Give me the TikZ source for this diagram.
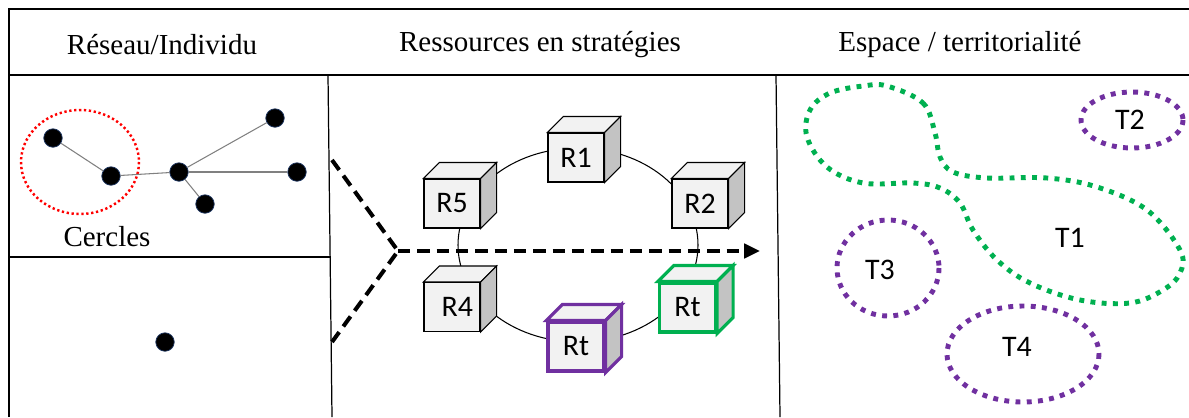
\documentclass[tikz,border=0pt]{standalone}
\usepackage{fontspec}
\setmainfont{Liberation Serif}
\newfontfamily\calibri{Carlito}
\usetikzlibrary{arrows.meta,shapes.geometric}
\definecolor{tgreen}{HTML}{00B050}
\definecolor{tpurple}{HTML}{7030A0}
\definecolor{cubefront}{HTML}{F2F2F2}
\definecolor{cubeside}{HTML}{C3C3C3}
\definecolor{dotblue}{HTML}{1F3864}
\newcommand\cubeext[3]{%
  \draw[draw=#2, line width=#3, fill=cubefront, line join=miter]
    (#1.north west) -- ++(16,-16) -- ([shift={(16,-16)}]#1.north east) -- (#1.north east) -- cycle;
  \draw[draw=#2, line width=#3, fill=cubeside, line join=miter]
    (#1.north east) -- ++(16,-16) -- ([shift={(16,-16)}]#1.south east) -- (#1.south east) -- cycle;
}
\begin{document}
\begin{tikzpicture}[x=0.02cm,y=-0.02cm,
  frame/.style={black, line width=0.7pt},
  header/.style={font=\fontsize{16.5}{19}\selectfont},
  cube/.style={draw=#1, fill=cubefront, minimum width=1.12cm, minimum height=0.98cm, inner sep=0pt,
    font=\calibri\fontsize{17}{20}\selectfont},
  netdot/.style={circle, fill=black, draw=dotblue, line width=0.4pt, minimum size=0.37cm, inner sep=0pt},
  netedge/.style={gray, line width=0.6pt},
  terr/.style={line width=2.8pt, dash pattern=on 2.8pt off 3.6pt},
  tlabel/.style={font=\calibri\fontsize{17}{20}\selectfont},
  bigdash/.style={line width=2.3pt, dash pattern=on 7pt off 4pt}
]
\useasboundingbox (0,0) rectangle (1189,417);

% frame
\draw[frame] (9,417) -- (9,9) -- (1189,9);
\draw[frame] (9,75) -- (1189,75);
\draw[frame] (328,75) -- (332,417);
\draw[frame] (776,75) -- (780,417);
\draw[frame] (9,257) -- (331,257);

% headers
\node[header] (h1) at (162,45) {Réseau/Individu};
\node[header] (h2) at (540,45) {Ressources en stratégies};
\node[header] (h3) at (960,45) {Espace / territorialité};

% network
\draw[red, line width=1.4pt, dash pattern=on 1.3pt off 1.5pt] (80,162) ellipse [x radius=59, y radius=52];
\node[netdot] (n1) at (53,138) {};
\node[netdot] (n2) at (111,176) {};
\node[netdot] (n3) at (179,172) {};
\node[netdot] (n4) at (275,118) {};
\node[netdot] (n5) at (297,172) {};
\node[netdot] (n6) at (205,204) {};
\node[netdot] (n7) at (165,342) {};
\draw[netedge] (n1) -- (n2);
\draw[netedge] (n2) -- (n3);
\draw[netedge] (n3) -- (n4);
\draw[netedge] (n3) -- (n5);
\draw[netedge] (n3) -- (n6);
\node[font=\fontsize{16.5}{19}\selectfont] (cercles) at (107,237) {Cercles};

% ring
\draw[black, line width=0.6pt] (578,245) ellipse [x radius=120, y radius=97];

% dashed arrow
\coordinate (a1) at (332,160);
\coordinate (av) at (398,251);
\coordinate (a2) at (332,342);
\coordinate (ae) at (760,251);
\draw[bigdash] (a1) -- (av) -- (a2);
\draw[bigdash, -{Triangle[length=9pt,width=8pt]}] (av) -- (ae);

% cubes
\node[cube=black, line width=0.6pt] (r1) at (576,157.5) {R1};
\cubeext{r1}{black}{0.6pt}
\node[cube=black, line width=0.6pt] (r5) at (452,203.5) {R5};
\cubeext{r5}{black}{0.6pt}
\node[cube=black, line width=0.6pt] (r2) at (700,203.5) {\raisebox{-6pt}{R2}};
\cubeext{r2}{black}{0.6pt}
\node[cube=black, line width=0.6pt] (r4) at (452,307) {\hspace{6pt}R4};
\cubeext{r4}{black}{0.6pt}
\node[cube=tpurple, line width=1.8pt] (rtp) at (576,346.5) {Rt};
\cubeext{rtp}{tpurple}{1.8pt}
\node[cube=tgreen, line width=1.8pt] (rtg) at (687.5,307.5) {Rt};
\cubeext{rtg}{tgreen}{1.8pt}

% territories
\draw[terr, tgreen] plot[smooth cycle, tension=0.6] coordinates {
  (887,86) (923,103) (935,133) (940,157) (953,172) (987,178) (1047,178)
  (1097,187) (1147,210) (1180,250) (1180,273) (1163,290) (1130,303)
  (1080,300) (1030,283) (997,260) (973,230) (960,203) (940,188) (913,183)
  (863,183) (827,167) (807,137) (810,110) (830,93) (863,86)};
\draw[terr, tpurple] (1132,120) ellipse [x radius=51, y radius=28];
\draw[terr, tpurple] (888,268) ellipse [x radius=51, y radius=48];
\draw[terr, tpurple] (1023,354) ellipse [x radius=76, y radius=48];
\node[tlabel] (t1) at (1070,238) {T1};
\node[tlabel] (t2) at (1130,120) {T2};
\node[tlabel] (t3) at (880,270) {T3};
\node[tlabel] (t4) at (1017,347) {T4};
\end{tikzpicture}
\end{document}
